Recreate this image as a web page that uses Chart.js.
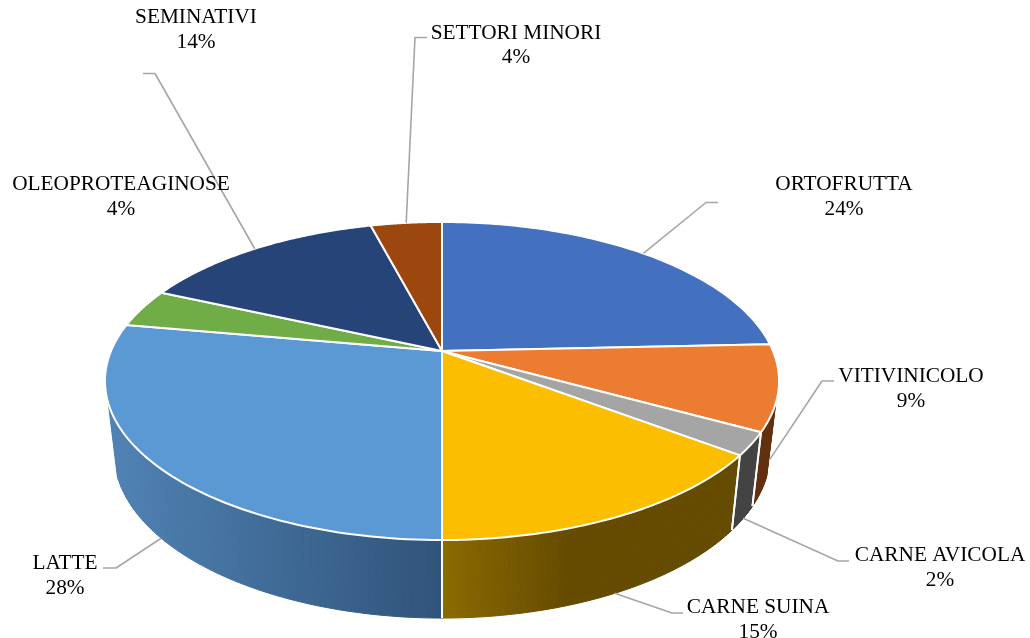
<!DOCTYPE html>
<html>
<head>
<meta charset="utf-8">
<title>Settori</title>
<script src="https://cdn.jsdelivr.net/npm/chart.js@4"></script>
<style>
    html, body { margin: 0; padding: 0; background: #ffffff; }
    canvas { display: block; }
</style>
</head>
<body>
<canvas id="pieChart" width="1030" height="638"></canvas>
<script>
const categories = ["ORTOFRUTTA", "VITIVINICOLO", "CARNE AVICOLA", "CARNE SUINA", "LATTE", "OLEOPROTEAGINOSE", "SEMINATIVI", "SETTORI MINORI"];
const shares = [24.3, 8.7, 2.3, 14.7, 27.8, 3.9, 14.2, 4.1];

const topColors = ["#4371C0", "#EB7C31", "#A5A5A5", "#FBBE00", "#5B99D5", "#70AD47", "#264478", "#9B470E"];
// wall shading: colour at the left end, colour at the right end, and where the fade stops
const wallLeft = ["#2a4575", "#63300f", "#434343", "#8b6a00", "#5083b5", "#43682b", "#172a49", "#5f2c09"];
const wallRight = ["#2a4575", "#63300f", "#434343", "#654b00", "#30537a", "#43682b", "#172a49", "#5f2c09"];
const wallFadeEnd = [1, 1, 1, 0.42, 1, 1, 1, 1];

// label centre x, first line baseline, leader elbow x/y, leader end x (null = no leader)
const labelX = [844, 911, 940, 758, 65, 121, 196, 516];
const labelY = [190, 382, 561, 613, 569, 190, 23, 38.5];
const elbowX = [706, 822, 838, 672, 116, null, 155, 415];
const elbowY = [202.5, 381, 561, 613, 568, null, 73.5, 37.5];
const stubX = [718, 834, 849, 683, 103, null, 143, 427];

const TILT = 0.4634;         // vertical squash of the top face
const PERSPECTIVE = -0.1886; // moves the pie centre behind the middle of the ellipse
const BOTTOM_SCALE_X = 0.973;
const BOTTOM_SCALE_Y = 1.038;
const TOP_ELLIPSE_Y = 381;
const BOTTOM_ELLIPSE_Y = 453;
const WALL_START_Y = 403;    // the wall only shows below this height on the rim
const STEPS = 80;

function topPoint(arc, angle) {
    const theta = angle + Math.PI / 2;
    const u = Math.sin(theta);
    const v = -Math.cos(theta);
    const w = 1 + PERSPECTIVE * v;
    return {
        x: arc.x + arc.outerRadius * u / w,
        y: arc.y + arc.outerRadius * TILT * v / w,
    };
}

function bottomPoint(arc, angle) {
    const p = topPoint(arc, angle);
    return {
        x: arc.x + (p.x - arc.x) * BOTTOM_SCALE_X,
        y: BOTTOM_ELLIPSE_Y + (p.y - TOP_ELLIPSE_Y) * BOTTOM_SCALE_Y,
    };
}

function isFront(angle) {
    return Math.cos(angle + Math.PI / 2) < 0;
}

function stepAngle(arc, i) {
    return arc.startAngle + (arc.endAngle - arc.startAngle) * i / STEPS;
}

function drawWall(ctx, arc, index) {
    const xs = [];
    for (let i = 0; i <= STEPS; i++) {
        xs.push(topPoint(arc, stepAngle(arc, i)).x);
    }
    const x0 = Math.min(...xs);
    const x1 = Math.max(...xs);
    const fill = ctx.createLinearGradient(x0, 0, x1 + 1, 0);
    fill.addColorStop(0, wallLeft[index]);
    fill.addColorStop(wallFadeEnd[index], wallRight[index]);
    ctx.fillStyle = fill;
    ctx.strokeStyle = fill;
    ctx.lineWidth = 1;
    for (let i = 0; i < STEPS; i++) {
        const p1 = topPoint(arc, stepAngle(arc, i));
        const p2 = topPoint(arc, stepAngle(arc, i + 1));
        if (Math.min(p1.y, p2.y) < WALL_START_Y) {
            continue;
        }
        const p3 = bottomPoint(arc, stepAngle(arc, i + 1));
        const p4 = bottomPoint(arc, stepAngle(arc, i));
        ctx.beginPath();
        ctx.moveTo(p1.x, p1.y);
        ctx.lineTo(p2.x, p2.y);
        ctx.lineTo(p3.x, p3.y);
        ctx.lineTo(p4.x, p4.y);
        ctx.closePath();
        ctx.fill();
        ctx.stroke();
    }
}

function drawDivider(ctx, arc, angle) {
    if (!isFront(angle)) {
        return;
    }
    const p = topPoint(arc, angle);
    const q = bottomPoint(arc, angle);
    ctx.strokeStyle = "#ffffff";
    ctx.lineWidth = 1.8;
    ctx.beginPath();
    ctx.moveTo(p.x, p.y);
    ctx.lineTo(q.x, q.y);
    ctx.stroke();
}

function drawTop(ctx, arc, color) {
    ctx.beginPath();
    ctx.moveTo(arc.x, arc.y);
    for (let i = 0; i <= STEPS; i++) {
        const p = topPoint(arc, stepAngle(arc, i));
        ctx.lineTo(p.x, p.y);
    }
    ctx.closePath();
    ctx.fillStyle = color;
    ctx.fill();
    ctx.strokeStyle = "#ffffff";
    ctx.lineWidth = 2;
    ctx.lineJoin = "round";
    ctx.stroke();
}

function drawLabels(ctx, arcs) {
    arcs.forEach((arc, i) => {
        if (elbowX[i] !== null) {
            const mid = (arc.startAngle + arc.endAngle) / 2;
            const start = isFront(mid) ? bottomPoint(arc, mid) : topPoint(arc, mid);
            ctx.strokeStyle = "#a6a6a6";
            ctx.lineWidth = 1.6;
            ctx.beginPath();
            ctx.moveTo(start.x, start.y);
            ctx.lineTo(elbowX[i], elbowY[i]);
            ctx.lineTo(stubX[i], elbowY[i]);
            ctx.stroke();
        }
    });
    ctx.font = '21.3px "Liberation Serif"';
    ctx.fillStyle = "#000000";
    ctx.textAlign = "center";
    ctx.textBaseline = "alphabetic";
    categories.forEach((name, i) => {
        ctx.fillText(name, labelX[i], labelY[i]);
        ctx.fillText(`${Math.round(shares[i])}%`, labelX[i], labelY[i] + 24.5);
    });
}

const pie3d = {
    id: "pie3d",
    beforeDatasetsDraw(chart) {
        const ctx = chart.ctx;
        const arcs = chart.getDatasetMeta(0).data;
        ctx.save();
        arcs.forEach((arc, i) => drawWall(ctx, arc, i));
        arcs.forEach((arc) => {
            drawDivider(ctx, arc, arc.startAngle);
            drawDivider(ctx, arc, arc.endAngle);
        });
        arcs.forEach((arc, i) => drawTop(ctx, arc, topColors[i]));
        drawLabels(ctx, arcs);
        ctx.restore();
        return false;
    },
};

new Chart(document.getElementById("pieChart").getContext("2d"), {
    type: "pie",
    data: {
        labels: categories,
        datasets: [{
            data: shares,
            backgroundColor: topColors,
            borderWidth: 0,
        }],
    },
    options: {
        responsive: false,
        animation: false,
        radius: 331,
        layout: { padding: { left: 0, right: 146, top: 64, bottom: 0 } },
        plugins: {
            legend: { display: false },
            tooltip: { enabled: false },
        },
    },
    plugins: [pie3d],
});
</script>
</body>
</html>
